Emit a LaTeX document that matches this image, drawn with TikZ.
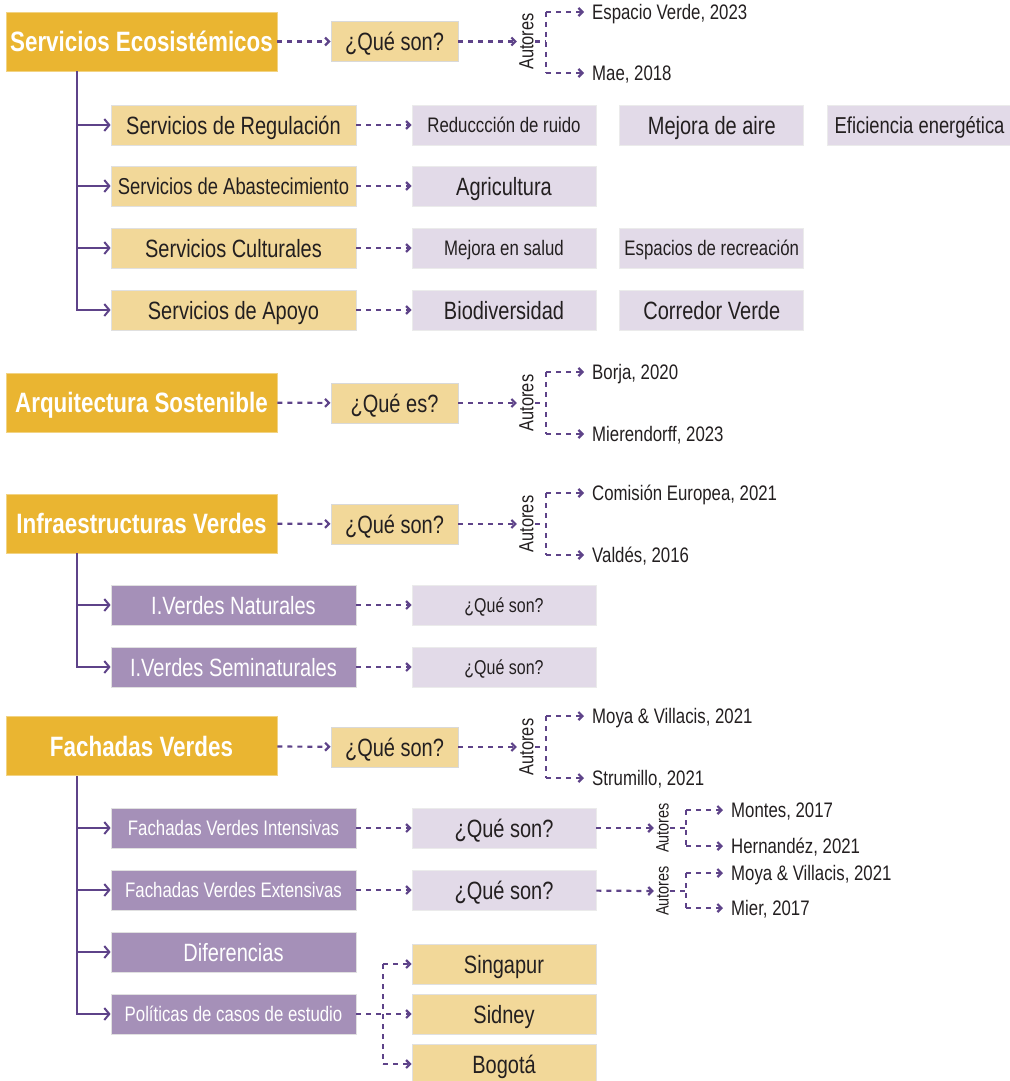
\documentclass[tikz,border=0pt]{standalone}
\usepackage{fontspec}
\setmainfont{Liberation Sans}[FakeStretch=0.8]
\usetikzlibrary{arrows.meta,positioning}

\definecolor{oro}{HTML}{EAB531}
\definecolor{oroclaro}{HTML}{F2D899}
\definecolor{lila}{HTML}{A590B8}
\definecolor{lilaclaro}{HTML}{E2DAE8}
\definecolor{linea}{HTML}{5E4389}
\definecolor{texto}{HTML}{231F20}

\tikzset{
  topbox/.style={fill=oro, draw=oro!60!white, line width=0.8pt, minimum width=271pt, minimum height=59pt, inner sep=0pt, text=white, font=\bfseries\fontsize{28}{28}\selectfont, text height=20pt, text depth=0pt},
  qbox/.style={fill=oroclaro, draw=black!15, line width=0.8pt, minimum width=127pt, minimum height=40pt, inner sep=0pt, text=texto},
  subbox/.style={fill=oroclaro, draw=black!12, line width=0.8pt, minimum width=245pt, minimum height=40pt, inner sep=0pt, text=texto},
  subboxlila/.style={fill=lila, draw=black!12, line width=0.8pt, minimum width=245pt, minimum height=40pt, inner sep=0pt, text=white},
  leafbox/.style={fill=lilaclaro, draw=black!8, line width=0.8pt, minimum width=184pt, minimum height=40pt, inner sep=0pt, text=texto},
  leafboxoro/.style={fill=oroclaro, draw=black!12, line width=0.8pt, minimum width=184pt, minimum height=40pt, inner sep=0pt, text=texto},
  big/.style={font=\fontsize{25}{25}\selectfont, text height=18pt, text depth=0pt},
  mid/.style={font=\fontsize{23}{23}\selectfont, text height=16.5pt, text depth=0pt},
  small/.style={font=\fontsize{21}{21}\selectfont, text height=15pt, text depth=0pt},
  tiny/.style={font=\fontsize{20}{20}\selectfont, text height=14.3pt, text depth=0pt},
  autores/.style={rotate=90, font=\fontsize{20.5}{20.5}\selectfont, inner sep=1.5pt, text height=14.7pt, text depth=0pt, text=texto},
  autoresp/.style={autores, font=\fontsize{18}{18}\selectfont, text height=13pt},
  cita/.style={small, anchor=west, inner xsep=8pt, inner ysep=2pt, text=texto},
  dashline/.style={draw=linea, line width=2.2pt, dash pattern=on 5pt off 5pt},
  dasharrow/.style={dashline, -{Straight Barb[length=4pt,width=8pt]}},
  trunk/.style={draw=linea, line width=2pt},
  trunkarrow/.style={trunk, -{Straight Barb[length=5pt,width=12pt]}},
}

\begin{document}
\begin{tikzpicture}[x=1pt,y=-1pt]
        \useasboundingbox (0,0) rectangle (1009,1081);

        % Servicios Ecosistemicos
        \node[topbox] (se) at (141.5,41.5) {Servicios Ecosistémicos};
        \node[qbox,big] (se-q) at (394.5,41.5) {¿Qué son?};
        \node[autores] (se-aut) at (526,41.5) {Autores};
        \coordinate (se-b) at (546,41.5);
        \node[cita] (se-a1) at (584,12) {Espacio Verde, 2023};
        \node[cita] (se-a2) at (584,73) {Mae, 2018};
        \draw[dasharrow] (se) -- (se-q);
        \draw[dasharrow] (se-q) -- (se-aut.north);
        \draw[dashline] (se-aut.south) -- (se-b);
        \draw[dashline] (se-b |- se-a1) -- (se-b |- se-a2);
        \draw[dasharrow] (se-b |- se-a1) -- (se-a1.west);
        \draw[dasharrow] (se-b |- se-a2) -- (se-a2.west);

        \coordinate (se-t) at (77,71);
        \node[subbox,big] (reg) at (233.5,125) {Servicios de Regulación};
        \node[subbox,mid] (abas) at (233.5,186) {Servicios de Abastecimiento};
        \node[subbox,big] (cult) at (233.5,248) {Servicios Culturales};
        \node[subbox,big] (apoyo) at (233.5,310) {Servicios de Apoyo};
        \draw[trunkarrow] (se-t) |- (apoyo);
        \draw[trunkarrow] (se-t |- reg) -- (reg);
        \draw[trunkarrow] (se-t |- abas) -- (abas);
        \draw[trunkarrow] (se-t |- cult) -- (cult);

        \node[leafbox,small] (ruido) at (504,125) {Reduccción de ruido};
        \node[leafbox,big,right=23pt of ruido] (aire) {Mejora de aire};
        \node[leafbox,mid,right=23pt of aire] (efic) {Eficiencia energética};
        \node[leafbox,big] (agri) at (504,186) {Agricultura};
        \node[leafbox,small] (salud) at (504,248) {Mejora en salud};
        \node[leafbox,small,right=23pt of salud] (recre) {Espacios de recreación};
        \node[leafbox,big] (biodiv) at (504,310) {Biodiversidad};
        \node[leafbox,big,right=23pt of biodiv] (corredor) {Corredor Verde};
        \draw[dasharrow] (reg) -- (ruido);
        \draw[dasharrow] (abas) -- (agri);
        \draw[dasharrow] (cult) -- (salud);
        \draw[dasharrow] (apoyo) -- (biodiv);

        % Arquitectura Sostenible
        \node[topbox] (as) at (141.5,402.5) {Arquitectura Sostenible};
        \node[qbox,big] (as-q) at (394.5,403) {¿Qué es?};
        \node[autores] (as-aut) at (526,403) {Autores};
        \coordinate (as-b) at (546,403);
        \node[cita] (as-a1) at (584,372) {Borja, 2020};
        \node[cita] (as-a2) at (584,434) {Mierendorff, 2023};
        \draw[dasharrow] (as) -- (as-q);
        \draw[dasharrow] (as-q) -- (as-aut.north);
        \draw[dashline] (as-aut.south) -- (as-b);
        \draw[dashline] (as-b |- as-a1) -- (as-b |- as-a2);
        \draw[dasharrow] (as-b |- as-a1) -- (as-a1.west);
        \draw[dasharrow] (as-b |- as-a2) -- (as-a2.west);

        % Infraestructuras Verdes
        \node[topbox] (iv) at (141.5,523.5) {Infraestructuras Verdes};
        \node[qbox,big] (iv-q) at (394.5,524) {¿Qué son?};
        \node[autores] (iv-aut) at (526,524) {Autores};
        \coordinate (iv-b) at (546,524);
        \node[cita] (iv-a1) at (584,493) {Comisión Europea, 2021};
        \node[cita] (iv-a2) at (584,555) {Valdés, 2016};
        \draw[dasharrow] (iv) -- (iv-q);
        \draw[dasharrow] (iv-q) -- (iv-aut.north);
        \draw[dashline] (iv-aut.south) -- (iv-b);
        \draw[dashline] (iv-b |- iv-a1) -- (iv-b |- iv-a2);
        \draw[dasharrow] (iv-b |- iv-a1) -- (iv-a1.west);
        \draw[dasharrow] (iv-b |- iv-a2) -- (iv-a2.west);

        \coordinate (iv-t) at (77,553);
        \node[subboxlila,big] (nat) at (233.5,605) {I.Verdes Naturales};
        \node[subboxlila,big] (semi) at (233.5,667) {I.Verdes Seminaturales};
        \draw[trunkarrow] (iv-t) |- (semi);
        \draw[trunkarrow] (iv-t |- nat) -- (nat);
        \node[leafbox,tiny] (nat-q) at (504,605) {¿Qué son?};
        \node[leafbox,tiny] (semi-q) at (504,667) {¿Qué son?};
        \draw[dasharrow] (nat) -- (nat-q);
        \draw[dasharrow] (semi) -- (semi-q);

        % Fachadas Verdes
        \node[topbox] (fv) at (141.5,746) {Fachadas Verdes};
        \node[qbox,big] (fv-q) at (394.5,747) {¿Qué son?};
        \node[autores] (fv-aut) at (526,747) {Autores};
        \coordinate (fv-b) at (546,747);
        \node[cita] (fv-a1) at (584,716) {Moya \& Villacis, 2021};
        \node[cita] (fv-a2) at (584,778) {Strumillo, 2021};
        \draw[dasharrow] (fv) -- (fv-q);
        \draw[dasharrow] (fv-q) -- (fv-aut.north);
        \draw[dashline] (fv-aut.south) -- (fv-b);
        \draw[dashline] (fv-b |- fv-a1) -- (fv-b |- fv-a2);
        \draw[dasharrow] (fv-b |- fv-a1) -- (fv-a1.west);
        \draw[dasharrow] (fv-b |- fv-a2) -- (fv-a2.west);

        \coordinate (fv-t) at (77,776);
        \node[subboxlila,small] (int) at (233.5,828) {Fachadas Verdes Intensivas};
        \node[subboxlila,small] (ext) at (233.5,890) {Fachadas Verdes Extensivas};
        \node[subboxlila,big] (dif) at (233.5,952) {Diferencias};
        \node[subboxlila,small] (pol) at (233.5,1014) {Políticas de casos de estudio};
        \draw[trunkarrow] (fv-t) |- (pol);
        \draw[trunkarrow] (fv-t |- int) -- (int);
        \draw[trunkarrow] (fv-t |- ext) -- (ext);
        \draw[trunkarrow] (fv-t |- dif) -- (dif);

        \node[leafbox,big] (int-q) at (504,828) {¿Qué son?};
        \node[autoresp] (int-aut) at (662,828) {Autores};
        \coordinate (int-b) at (686,828);
        \node[cita] (int-a1) at (723,810) {Montes, 2017};
        \node[cita] (int-a2) at (723,846) {Hernandéz, 2021};
        \draw[dasharrow] (int) -- (int-q);
        \draw[dasharrow] (int-q) -- (int-aut.north);
        \draw[dashline] (int-aut.south) -- (int-b);
        \draw[dashline] (int-b |- int-a1) -- (int-b |- int-a2);
        \draw[dasharrow] (int-b |- int-a1) -- (int-a1.west);
        \draw[dasharrow] (int-b |- int-a2) -- (int-a2.west);

        \node[leafbox,big] (ext-q) at (504,890) {¿Qué son?};
        \node[autoresp] (ext-aut) at (662,891) {Autores};
        \coordinate (ext-b) at (686,891);
        \node[cita] (ext-a1) at (723,873) {Moya \& Villacis, 2021};
        \node[cita] (ext-a2) at (723,908) {Mier, 2017};
        \draw[dasharrow] (ext) -- (ext-q);
        \draw[dasharrow] (ext-q) -- (ext-aut.north);
        \draw[dashline] (ext-aut.south) -- (ext-b);
        \draw[dashline] (ext-b |- ext-a1) -- (ext-b |- ext-a2);
        \draw[dasharrow] (ext-b |- ext-a1) -- (ext-a1.west);
        \draw[dasharrow] (ext-b |- ext-a2) -- (ext-a2.west);

        % casos de estudio
        \node[leafboxoro,big] (sing) at (504,964) {Singapur};
        \node[leafboxoro,big] (sid) at (504,1014) {Sidney};
        \node[leafboxoro,big] (bog) at (504,1064) {Bogotá};
        \coordinate (pol-b) at (383,1014);
        \draw[dasharrow] (pol) -- (sid);
        \draw[dashline] (pol-b |- sing) -- (pol-b |- bog);
        \draw[dasharrow] (pol-b |- sing) -- (sing);
        \draw[dasharrow] (pol-b |- bog) -- (bog);
\end{tikzpicture}
\end{document}
